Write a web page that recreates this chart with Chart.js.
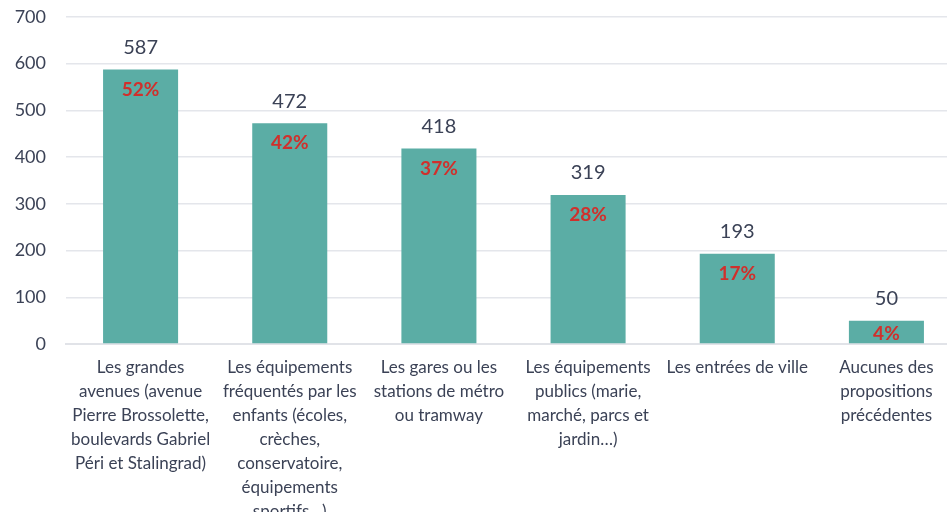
<!DOCTYPE html>
<html>
<head>
<meta charset="utf-8">
<script src="https://cdn.jsdelivr.net/npm/chart.js@4"></script>
<style>
  html, body { margin: 0; padding: 0; background: #fff; overflow: hidden; }
  #wrap { width: 962px; height: 526px; margin-top: -14px; position: relative; }
</style>
</head>
<body>
<div id="wrap"><canvas id="chart"></canvas></div>
<script>
// Data
const categories = [
  ['Les grandes', 'avenues (avenue', 'Pierre Brossolette,', 'boulevards Gabriel', 'Péri et Stalingrad)'],
  ['Les équipements', 'fréquentés par les', 'enfants (écoles,', 'crèches,', 'conservatoire,', 'équipements', 'sportifs…)'],
  ['Les gares ou les', 'stations de métro', 'ou tramway'],
  ['Les équipements', 'publics (marie,', 'marché, parcs et', 'jardin…)'],
  ['Les entrées de ville'],
  ['Aucunes des', 'propositions', 'précédentes']
];
const counts = [587, 472, 418, 319, 193, 50];
const percents = ['52%', '42%', '37%', '28%', '17%', '4%'];
const yTicks = [0, 100, 200, 300, 400, 500, 600, 700];

const textColor = '#3b4256';
const FONT = 'Lato, "Open Sans", sans-serif';

// Labels above bars and percentages inside bar tops
const barLabels = {
  id: 'barLabels',
  afterDatasetsDraw(chart) {
    const ctx = chart.ctx;
    const meta = chart.getDatasetMeta(0);
    ctx.save();
    ctx.textAlign = 'center';
    ctx.textBaseline = 'middle';
    meta.data.forEach((bar, i) => {
      ctx.fillStyle = textColor;
      ctx.font = '20px ' + FONT;
      ctx.fillText(String(counts[i]), bar.x, bar.y - 22);
      // small bars: keep the percentage inside
      const py = Math.min(bar.y + 20, (bar.y + bar.base) / 2 + 2);
      ctx.fillStyle = '#d0302c';
      ctx.font = 'bold 19px ' + FONT;
      ctx.fillText(percents[i], bar.x, py);
    });
    ctx.restore();
  }
};

const ctx = document.getElementById('chart').getContext('2d');
new Chart(ctx, {
  type: 'bar',
  data: {
    labels: categories,
    datasets: [{
      data: counts,
      backgroundColor: '#5bada5',
      borderWidth: 0,
      categoryPercentage: 1,
      barPercentage: 0.503
    }]
  },
  options: {
    responsive: true,
    maintainAspectRatio: false,
    animation: false,
    layout: { padding: { top: 5, right: 1, left: 0, bottom: 0 } },
    plugins: {
      legend: { display: false },
      tooltip: { enabled: false }
    },
    scales: {
      x: {
        grid: { display: false, drawTicks: false },
        border: { color: '#e1e3e8', width: 2 },
        ticks: {
          color: textColor,
          font: { family: FONT, size: 17, lineHeight: 1.41 },
          maxRotation: 0,
          autoSkip: false,
          padding: 12
        },
        afterFit: (axis) => { axis.height = 168; }
      },
      y: {
        min: 0,
        max: 700,
        afterBuildTicks: (axis) => { axis.ticks = yTicks.map(v => ({ value: v })); },
        grid: { color: '#e4e6eb', lineWidth: 1.5, drawTicks: false },
        border: { display: false },
        ticks: {
          color: textColor,
          font: { family: FONT, size: 18 },
          padding: 20
        },
        afterFit: (axis) => { axis.width = 66; }
      }
    }
  },
  plugins: [barLabels]
});
</script>
</body>
</html>
